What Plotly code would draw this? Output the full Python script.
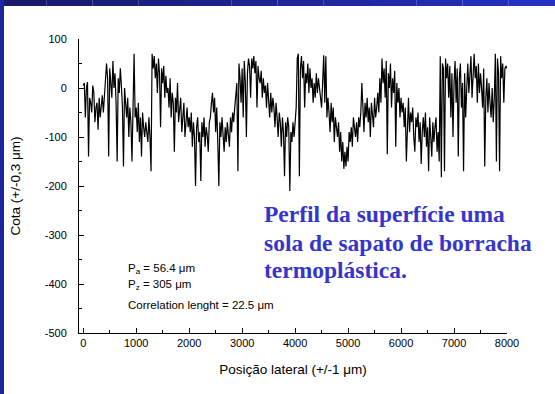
import numpy as np
import plotly.graph_objects as go

profile = [
    5, 10, -60, 0, 12, -140, -20, -30, -50, 5, -10, -70, -40, -30, -85, -20, -60, -40, -15, -50,
    -10, 30, 50, 20, -140, 40, 10, -20, 55, 0, 30, -30, -150, 20, -10, 40, 5, -40, -160, 0,
    -30, -60, -20, -100, -40, -70, -150, -50, 70, -60, -40, -90, -30, -110, -60, -140, -50, -80, -100, -70,
    -90, -110, -60, -100, -170, 70, 40, 65, 20, 50, -10, 60, 30, -80, 40, 10, 45, -20, 25, -10,
    0, -40, 20, -60, -10, -30, -130, -20, -50, 10, -70, -40, -20, -90, -50, -30, -100, -60, -40, -80,
    -60, -90, -50, -120, -70, -100, -200, -80, -60, -110, -90, -190, -70, -100, -60, -120, -80, -95, -130, -70,
    -60, -30, -10, -50, -20, -90, -40, -110, -200, -70, -100, -60, -90, -130, -80, -110, -70, -100, -120, -60,
    -90, -50, -70, -40, -20, 10, -170, 50, 20, -30, 40, -60, 55, 10, -100, 30, 60, 45, -20, 60,
    40, 65, 30, 55, -40, 45, 20, 10, 35, -20, 20, -10, 5, -40, 10, -30, -60, -10, -50, -20,
    -40, -80, -30, -60, -100, -50, -70, -120, -60, -90, -180, -70, -100, -60, -80, -210, -90, -110, -70, -100,
    -60, -40, 60, 70, -180, 40, 65, 20, 55, -40, 30, 10, 50, -10, 40, 0, 20, -30, 10, -20,
    30, -10, 20, 5, -20, -40, 10, 67, -30, 65, -60, -20, -50, -90, -30, -70, -40, -110, -60, -80,
    -100, -70, -130, -90, -150, -110, -165, -130, -160, -120, -150, -90, -110, -80, -120, -60, -90, -100, -70, -110,
    -60, -80, -50, 10, -40, -90, -30, -60, -20, -70, -40, -100, -30, -50, -80, -20, -60, -40, -10, -50,
    20, -30, 60, 10, 40, -20, 55, -135, 30, 0, 50, -40, 20, -10, 35, -120, 10, -30, 0, -60,
    -20, -50, -30, -80, -40, -150, -60, -20, -90, -50, -70, -40, -100, -130, -60, -80, -50, -110, -70, -155,
    -90, -60, -100, -50, -120, -80, -170, -60, -100, -140, -70, -110, -80, -60, -130, -90, -150, 65, -182, 50,
    40, -170, 60, 20, 50, -20, 45, -60, 30, -100, 10, 55, -30, 40, -140, 20, 50, -40, 10, -170,
    30, -60, 0, 50, -10, 40, 65, -20, 35, 70, 20, 45, -30, 50, -10, 30, 0, -40, 40, -160,
    -20, 20, -50, 10, -30, -60, 0, -70, -20, 70, -150, 60, 30, -170, 65, 20, 50, -30, 40, 45, 40,
]
position = np.linspace(0, 8000, len(profile))

x_ticks = [0, 1000, 2000, 3000, 4000, 5000, 6000, 7000, 8000]
y_ticks = [100, 0, -100, -200, -300, -400, -500]

stats_lines = ["P<sub>a</sub> = 56.4 μm", "P<sub>z</sub> = 305 μm", "Correlation lenght = 22.5 μm"]
title_lines = ["Perfil da superfície uma", "sola de sapato de borracha", "termoplástica."]

W, H = 555, 394
fig = go.Figure()
fig.add_trace(go.Scatter(x=position, y=profile, mode="lines",
                         line=dict(color="black", width=1.2), showlegend=False))

sans = "Liberation Sans, Arial, sans-serif"
axis_common = dict(showline=True, linecolor="black", linewidth=1, showgrid=False, zeroline=False,
                   ticks="inside", ticklen=5, tickcolor="black", tickwidth=1,
                   tickfont=dict(family=sans, size=11, color="black"))
fig.update_xaxes(range=[-80, 8000], tickvals=x_ticks, ticktext=[str(v) for v in x_ticks],
                 minor=dict(ticks="inside", ticklen=3, dtick=500, tick0=0, tickcolor="black"),
                 title=dict(text="Posição lateral (+/-1 μm)", font=dict(family=sans, size=13.5, color="black"),
                            standoff=16),
                 **axis_common)
fig.update_yaxes(range=[-500, 100], tickvals=y_ticks, ticktext=[str(v) for v in y_ticks],
                 minor=dict(ticks="inside", ticklen=3, dtick=50, tick0=0, tickcolor="black"),
                 title=dict(text="Cota (+/-0,3 μm)", font=dict(family=sans, size=13.5, color="black"),
                            standoff=21),
                 ticklabelstandoff=9,
                 **axis_common)

# blue frame bands (gradient approximated)
n = 12
c0 = np.array([0x18, 0x18, 0x6c]); c1 = np.array([0x24, 0x32, 0xc0])
for i in range(n):
    c = c0 + (c1 - c0) * i / (n - 1)
    fig.add_shape(type="rect", xref="paper", yref="paper",
                  x0=(-79 + i * W / n) / 428, x1=(-79 + (i + 1) * W / n) / 428,
                  y1=(333 - 0) / 294, y0=(333 - 6) / 294,
                  fillcolor="rgb(%d,%d,%d)" % tuple(c.astype(int)), line=dict(width=0), layer="above")
fig.add_shape(type="rect", xref="paper", yref="paper", x0=-79 / 428, x1=(-79 + 4) / 428,
              y0=(333 - 394) / 294, y1=(333 - 0) / 294,
              fillcolor="rgb(30,36,160)", line=dict(width=0), layer="above")

def px_to_paper(px, py):
    return (px - 79) / 428, (333 - py) / 294

for i, t in enumerate(stats_lines):
    xx, yy = px_to_paper(126, [269, 285, 305][i])
    fig.add_annotation(x=xx, y=yy, xref="paper", yref="paper", text=t, showarrow=False,
                       xanchor="left", yanchor="middle",
                       font=dict(family=sans, size=11.5, color="black"))

for i, t in enumerate(title_lines):
    xx, yy = px_to_paper(262, [214, 243, 270][i])
    fig.add_annotation(x=xx, y=yy, xref="paper", yref="paper", text="<b>%s</b>" % t, showarrow=False,
                       xanchor="left", yanchor="middle",
                       font=dict(family="Liberation Serif, Times New Roman, serif", size=23.5, color="#3535cc"))

fig.update_layout(width=W, height=H, margin=dict(l=79, r=48, t=39, b=61),
                  paper_bgcolor="white", plot_bgcolor="white")
fig.write_html("out.html")
